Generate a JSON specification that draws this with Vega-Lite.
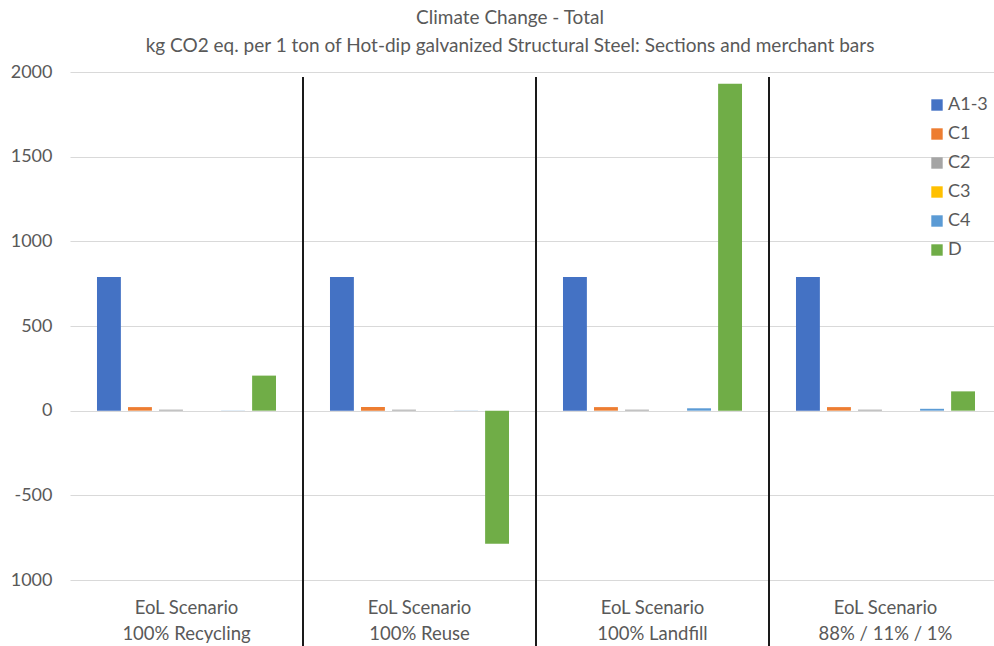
{
  "$schema": "https://vega.github.io/schema/vega-lite/v6.json",
  "width": 924,
  "height": 508,
  "autosize": {"type": "none"},
  "padding": {"left": 70, "top": 72, "right": 0, "bottom": 66},
  "background": "white",
  "config": {"font": "Lato", "view": {"stroke": null}},
  "title": {
    "text": ["Climate Change - Total", "kg CO2 eq. per 1 ton of Hot-dip galvanized Structural Steel: Sections and merchant bars"],
    "fontSize": 19,
    "font": "Lato",
    "fontWeight": "normal",
    "color": "#595959",
    "lineHeight": 28,
    "anchor": "middle",
    "dx": -22,
    "offset": 7
  },
  "datasets": {
    "bars": [
      {"scenario": "100% Recycling", "module": "A1-3", "value": 790},
      {"scenario": "100% Recycling", "module": "C1", "value": 21},
      {"scenario": "100% Recycling", "module": "C2", "value": 6},
      {"scenario": "100% Recycling", "module": "C3", "value": 0},
      {"scenario": "100% Recycling", "module": "C4", "value": 1},
      {"scenario": "100% Recycling", "module": "D", "value": 207},
      {"scenario": "100% Reuse", "module": "A1-3", "value": 790},
      {"scenario": "100% Reuse", "module": "C1", "value": 21},
      {"scenario": "100% Reuse", "module": "C2", "value": 6},
      {"scenario": "100% Reuse", "module": "C3", "value": 0},
      {"scenario": "100% Reuse", "module": "C4", "value": 1},
      {"scenario": "100% Reuse", "module": "D", "value": -786},
      {"scenario": "100% Landfill", "module": "A1-3", "value": 790},
      {"scenario": "100% Landfill", "module": "C1", "value": 21},
      {"scenario": "100% Landfill", "module": "C2", "value": 6},
      {"scenario": "100% Landfill", "module": "C3", "value": 0},
      {"scenario": "100% Landfill", "module": "C4", "value": 14},
      {"scenario": "100% Landfill", "module": "D", "value": 1930},
      {"scenario": "88% / 11% / 1%", "module": "A1-3", "value": 790},
      {"scenario": "88% / 11% / 1%", "module": "C1", "value": 21},
      {"scenario": "88% / 11% / 1%", "module": "C2", "value": 6},
      {"scenario": "88% / 11% / 1%", "module": "C3", "value": 0},
      {"scenario": "88% / 11% / 1%", "module": "C4", "value": 11},
      {"scenario": "88% / 11% / 1%", "module": "D", "value": 114}
    ],
    "separators": [
      {"scenario": "100% Recycling"},
      {"scenario": "100% Reuse"},
      {"scenario": "100% Landfill"}
    ]
  },
  "layer": [
    {
      "data": {"name": "bars"},
      "mark": {"type": "bar"},
      "encoding": {
        "x": {
          "field": "scenario",
          "type": "nominal",
          "sort": ["100% Recycling", "100% Reuse", "100% Landfill", "88% / 11% / 1%"],
          "scale": {"range": [0, 932], "paddingInner": 0, "paddingOuter": 0},
          "axis": {
            "title": null,
            "domain": false,
            "ticks": false,
            "labelAngle": 0,
            "labelOverlap": false,
            "labelExpr": "['EoL Scenario', datum.label]",
            "labelFontSize": 18.5,
            "labelColor": "#595959",
            "labelPadding": 18,
            "labelLineHeight": 26
          }
        },
        "xOffset": {
          "field": "module",
          "type": "nominal",
          "sort": ["A1-3", "C1", "C2", "C3", "C4", "D"],
          "scale": {"paddingInner": 0.23, "paddingOuter": 0.87}
        },
        "y": {
          "field": "value",
          "type": "quantitative",
          "scale": {"domain": [-1000, 2000], "nice": false},
          "axis": {
            "title": null,
            "values": [-1000, -500, 0, 500, 1000, 1500, 2000],
            "domain": false,
            "ticks": false,
            "labelFontSize": 18,
            "labelColor": "#595959",
            "labelPadding": 18,
            "gridColor": "#d9d9d9",
            "labelExpr": "datum.value == -1000 ? '1000' : '' + datum.value"
          }
        },
        "color": {
          "field": "module",
          "type": "nominal",
          "scale": {
            "domain": ["A1-3", "C1", "C2", "C3", "C4", "D"],
            "range": ["#4472C4", "#ED7D31", "#A5A5A5", "#FFC000", "#5B9BD5", "#70AD47"]
          },
          "legend": {
            "title": null,
            "orient": "none",
            "legendX": 858,
            "legendY": 24,
            "symbolType": "square",
            "symbolSize": 130,
            "symbolStrokeWidth": 0,
            "labelFontSize": 18,
            "labelColor": "#595959",
            "rowPadding": 11,
            "labelOffset": 2
          }
        }
      }
    },
    {
      "data": {"name": "separators"},
      "mark": {"type": "rule", "color": "#1a1a1a", "strokeWidth": 2},
      "encoding": {
        "x": {
          "field": "scenario",
          "type": "nominal",
          "bandPosition": 1,
          "sort": ["100% Recycling", "100% Reuse", "100% Landfill", "88% / 11% / 1%"]
        },
        "y": {"datum": 1970, "type": "quantitative"},
        "y2": {"datum": -1390}
      }
    }
  ]
}
